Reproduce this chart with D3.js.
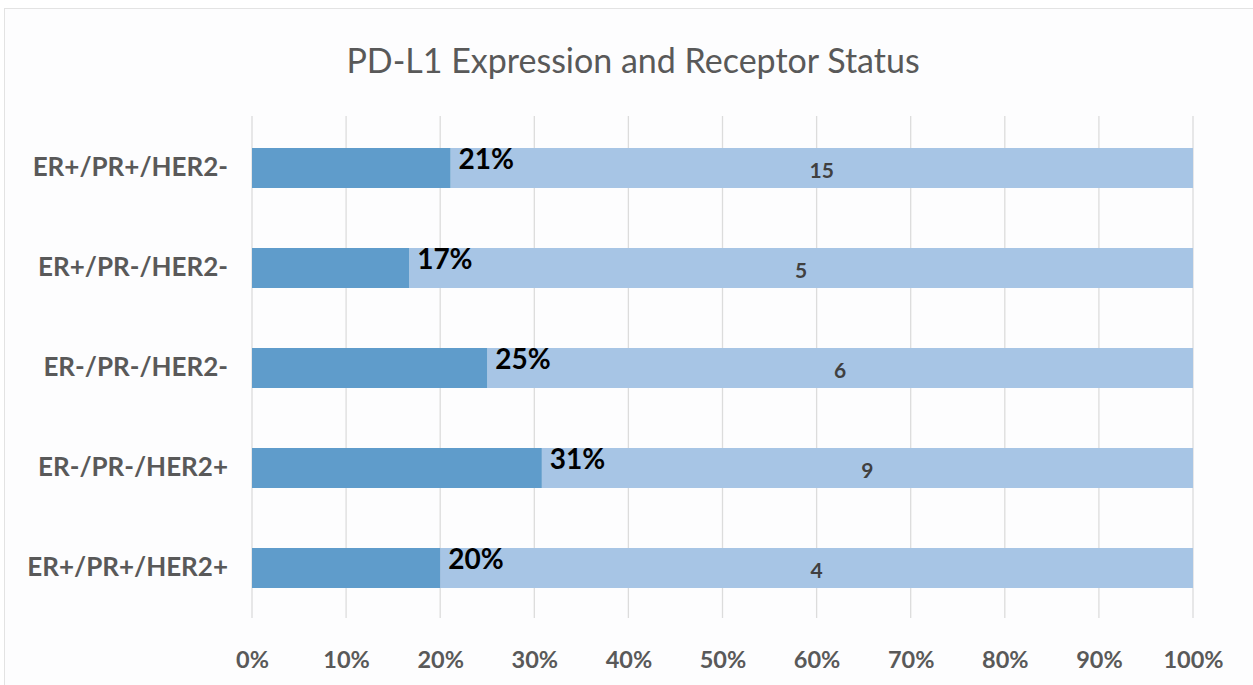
<!DOCTYPE html>
<html>
<head>
<meta charset="utf-8">
<script src="https://cdn.jsdelivr.net/npm/d3@7"></script>
<style>
  body { margin: 0; background: #fff; }
  svg { display: block; }
</style>
</head>
<body>
<svg id="chart" width="1253" height="685"></svg>
<script>
// data
const categories = ["ER+/PR+/HER2-", "ER+/PR-/HER2-", "ER-/PR-/HER2-", "ER-/PR-/HER2+", "ER+/PR+/HER2+"];
const positivePct = [21.1, 16.7, 25.0, 30.8, 20.0];   // dark segment, % of row
const negativeCount = [15, 5, 6, 9, 4];                // number shown in light segment
const xTicks = [0, 10, 20, 30, 40, 50, 60, 70, 80, 90, 100];

const svg = d3.select("#chart");
const W = 1253, H = 685;
const margin = { left: 252, right: 60, top: 118, bottom: 67 };
const font = "Lato, 'Open Sans', sans-serif";

// chart frame
svg.append("rect").attr("x", 4.5).attr("y", 8.5).attr("width", W - 4).attr("height", H - 8)
  .attr("fill", "#fdfdfe").attr("stroke", "#e3e3e3");

const x = d3.scaleLinear().domain([0, 100]).range([margin.left, W - margin.right]);
const y = d3.scaleBand().domain(categories).range([margin.top, H - margin.bottom]).paddingInner(0.6).paddingOuter(0.3);

// gridlines
svg.append("g").selectAll("line").data(xTicks).join("line")
  .attr("x1", d => x(d)).attr("x2", d => x(d))
  .attr("y1", 116).attr("y2", 618)
  .attr("stroke", "#dcdcdc").attr("stroke-width", 1.3);

const rows = categories.map((c, i) => ({ cat: c, pos: positivePct[i], neg: negativeCount[i] }));

// light (negative) segment
svg.append("g").selectAll("rect").data(rows).join("rect")
  .attr("x", d => x(d.pos)).attr("y", d => y(d.cat))
  .attr("width", d => x(100) - x(d.pos)).attr("height", y.bandwidth())
  .attr("fill", "#a7c5e5");

// dark (positive) segment
svg.append("g").selectAll("rect").data(rows).join("rect")
  .attr("x", x(0)).attr("y", d => y(d.cat))
  .attr("width", d => x(d.pos) - x(0)).attr("height", y.bandwidth())
  .attr("fill", "#5f9ccb");

// percentage labels
svg.append("g").selectAll("text").data(rows).join("text")
  .attr("x", d => x(d.pos) + 8).attr("y", d => y(d.cat) + y.bandwidth() / 2 + 1)
  .attr("font-family", font).attr("font-weight", "bold")
  .attr("font-size", 28).attr("fill", "#000")
  .text(d => Math.round(d.pos) + "%");

// count labels
svg.append("g").selectAll("text").data(rows).join("text")
  .attr("x", d => (x(d.pos) + x(100)) / 2).attr("y", d => y(d.cat) + y.bandwidth() / 2 + 10)
  .attr("text-anchor", "middle")
  .attr("font-family", font).attr("font-weight", "bold")
  .attr("font-size", 21).attr("fill", "#404040")
  .text(d => d.neg);

// category axis
const yAxis = svg.append("g").attr("transform", `translate(${margin.left},0)`)
  .call(d3.axisLeft(y).tickSize(0).tickPadding(24));
yAxis.select(".domain").remove();
yAxis.selectAll("text").attr("font-family", font)
  .attr("font-weight", "bold").attr("font-size", 26).attr("fill", "#595959");

// percent axis
const xAxis = svg.append("g").attr("transform", `translate(0,618)`)
  .call(d3.axisBottom(x).tickValues(xTicks).tickFormat(d => d + "%").tickSize(0).tickPadding(33));
xAxis.select(".domain").remove();
xAxis.selectAll("text").attr("font-family", font)
  .attr("font-weight", "bold").attr("font-size", 23.5).attr("fill", "#595959");

// title
svg.append("text").attr("x", 633).attr("y", 73).attr("text-anchor", "middle")
  .attr("font-family", font).attr("font-size", 34)
  .attr("fill", "#595959").text("PD-L1 Expression and Receptor Status");
</script>
</body>
</html>
